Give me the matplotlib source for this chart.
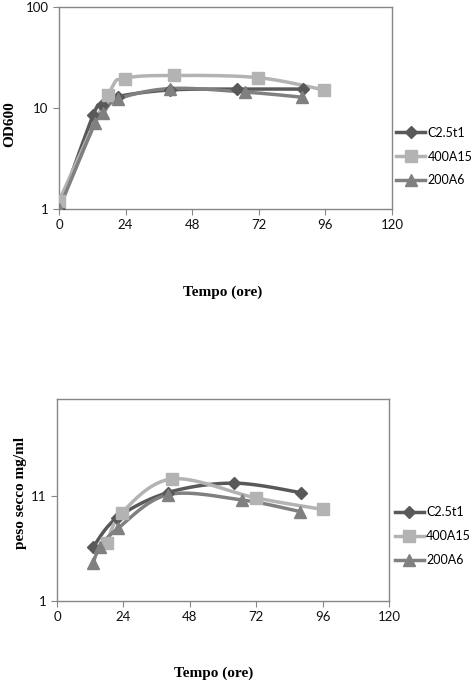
import matplotlib
matplotlib.use("Agg")
import matplotlib.pyplot as plt
import numpy as np

# dati (OD600, scala log)
od_c25_t = [0, 12.3, 15.5, 21.3, 40, 64.2, 87.9]
od_c25_y = [1.0, 8.5, 10.7, 13.0, 15.1, 15.4, 15.4]
od_400_t = [0, 17.7, 23.8, 41.5, 71.7, 95.5]
od_400_y = [1.2, 13.6, 19.6, 21.0, 20.0, 15.1]
od_200_t = [0, 13.0, 15.9, 21.3, 40, 67.0, 87.6]
od_200_y = [1.0, 7.1, 8.9, 12.3, 15.6, 14.4, 12.8]

# peso secco mg/ml
ps_c25_t = [13.0, 21.7, 40.1, 63.8, 88.2]
ps_c25_y = [6.1, 8.9, 11.3, 12.2, 11.3]
ps_400_t = [18.1, 23.5, 41.6, 71.9, 96.1]
ps_400_y = [6.5, 9.4, 12.6, 10.8, 9.7]
ps_200_t = [13.0, 15.5, 22.0, 40.0, 66.9, 87.8]
ps_200_y = [4.6, 6.1, 7.9, 11.1, 10.6, 9.5]

labels = ["C2.5t1", "400A15", "200A6"]
colors = ["#595959", "#b3b3b3", "#808080"]
markers = ["D", "s", "^"]
msizes = [6, 8, 8]

tick_font = "Lato"
label_font = "Liberation Serif"


def smooth(x, y, n=30):
    # curva tipo Excel (bezier con tensione 1/6)
    x = np.asarray(x, float)
    y = np.asarray(y, float)
    px = np.concatenate([[x[0]], x, [x[-1]]])
    py = np.concatenate([[y[0]], y, [y[-1]]])
    xs, ys = [], []
    t = np.linspace(0, 1, n)
    for i in range(1, len(px) - 2):
        p0 = np.array([px[i], py[i]])
        p3 = np.array([px[i + 1], py[i + 1]])
        c1 = p0 + (np.array([px[i + 1], py[i + 1]]) - np.array([px[i - 1], py[i - 1]])) / 6
        c2 = p3 - (np.array([px[i + 2], py[i + 2]]) - np.array([px[i], py[i]])) / 6
        b = ((1 - t) ** 3)[:, None] * p0 + (3 * (1 - t) ** 2 * t)[:, None] * c1 \
            + (3 * (1 - t) * t ** 2)[:, None] * c2 + (t ** 3)[:, None] * p3
        xs.extend(b[:, 0])
        ys.extend(b[:, 1])
    return np.array(xs), np.array(ys)


def style_axes(ax):
    for s in ax.spines.values():
        s.set_color("#868686")
        s.set_linewidth(1.0)
    ax.tick_params(direction="out", length=4, color="#868686", labelsize=9.5,
                   labelcolor="#111111")
    for lab in ax.get_xticklabels() + ax.get_yticklabels():
        lab.set_fontfamily(tick_font)
    ax.set_xlim(0, 120)
    ax.set_xticks([0, 24, 48, 72, 96, 120])
    ax.minorticks_off()


fig = plt.figure(figsize=(4.77, 6.82), dpi=100)

# --- grafico OD600 ---
ax1 = fig.add_axes([0.1237, 0.6935, 0.698, 0.2962])
ax1.set_yscale("log")
series1 = [(od_c25_t, od_c25_y), (od_400_t, od_400_y), (od_200_t, od_200_y)]
for (t, y), lab, c, m, ms in zip(series1, labels, colors, markers, msizes):
    sx, sy = smooth(t, np.log10(y))
    ax1.plot(sx, 10 ** sy, color=c, lw=2.5, zorder=2)
    ax1.plot(t, y, linestyle="none", marker=m, color=c, ms=ms, zorder=3)
    ax1.plot([], [], color=c, lw=2.5, marker=m, ms=ms, label=lab)
ax1.set_ylim(1, 100)
ax1.set_yticks([1, 10, 100])
ax1.set_yticklabels(["1", "10", "100"])
style_axes(ax1)
ax1.legend(loc="center left", bbox_to_anchor=(0.998, 0.26), frameon=False,
           prop={"family": tick_font, "size": 9}, handlelength=2.3,
           handletextpad=0.2, labelspacing=0.95, borderaxespad=0)

fig.text(0.021, 0.818, "OD600", rotation=90, ha="center", va="center",
         fontfamily=label_font, fontweight="bold", fontsize=11)
fig.text(0.466, 0.572, "Tempo (ore)", ha="center", va="center",
         fontfamily=label_font, fontweight="bold", fontsize=11)

# --- grafico peso secco ---
ax2 = fig.add_axes([0.1195, 0.1188, 0.696, 0.2962])
series2 = [(ps_c25_t, ps_c25_y), (ps_400_t, ps_400_y), (ps_200_t, ps_200_y)]
for (t, y), lab, c, m, ms in zip(series2, labels, colors, markers, msizes):
    sx, sy = smooth(t, y)
    ax2.plot(sx, sy, color=c, lw=2.5, zorder=2)
    ax2.plot(t, y, linestyle="none", marker=m, color=c, ms=ms, zorder=3)
    ax2.plot([], [], color=c, lw=2.5, marker=m, ms=ms, label=lab)
ax2.set_ylim(1, 20.2)
ax2.set_yticks([1, 11])
ax2.set_yticklabels(["1", "11"])
style_axes(ax2)
ax2.legend(loc="center left", bbox_to_anchor=(1.003, 0.32), frameon=False,
           prop={"family": tick_font, "size": 9}, handlelength=2.3,
           handletextpad=0.2, labelspacing=0.95, borderaxespad=0)

fig.text(0.042, 0.277, "peso secco mg/ml", rotation=90, ha="center", va="center",
         fontfamily=label_font, fontweight="bold", fontsize=11)
fig.text(0.447, 0.013, "Tempo (ore)", ha="center", va="center",
         fontfamily=label_font, fontweight="bold", fontsize=11)

fig.savefig("out.png", dpi=100, facecolor="white")
